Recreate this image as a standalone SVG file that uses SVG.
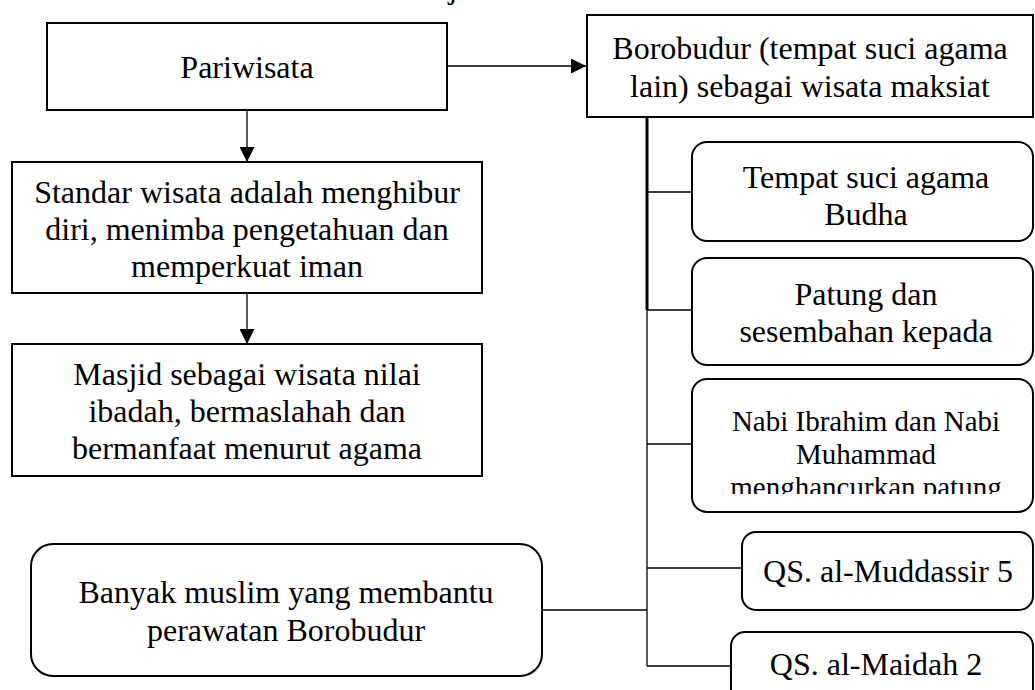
<svg xmlns="http://www.w3.org/2000/svg" width="1035" height="690" viewBox="0 0 1035 690">
<style>
.box{fill:#fff;stroke:#000;stroke-width:2}
.t{font-family:"Liberation Serif","Times New Roman",serif;font-size:32px;fill:#000;text-anchor:middle}
.s{font-size:29px}
.ln{stroke:#000;stroke-width:1.3;fill:none}
.thick{stroke:#000;stroke-width:3;fill:none}
</style>
<defs>
<marker id="ah" viewBox="0 0 10 10" refX="10" refY="5" markerWidth="15" markerHeight="15" markerUnits="userSpaceOnUse" orient="auto">
<path d="M0,0 L10,5 L0,10 Z" fill="#000"/>
</marker>
<clipPath id="nabiClip"><rect x="692" y="379" width="343" height="115"/></clipPath>
</defs>
<rect width="1035" height="690" fill="#fff"/>
<text class="t" x="453" y="-2">j</text>
<g id="connectors">
<line class="ln" x1="247" y1="110" x2="247" y2="162" marker-end="url(#ah)"/>
<line class="ln" x1="247" y1="293" x2="247" y2="344" marker-end="url(#ah)"/>
<line class="ln" x1="447" y1="66" x2="586" y2="66" marker-end="url(#ah)"/>
<line class="thick" x1="647" y1="118" x2="647" y2="310"/>
<line class="ln" x1="647" y1="118" x2="647" y2="666"/>
<line class="ln" x1="647" y1="192" x2="692" y2="192"/>
<line class="ln" x1="647" y1="310" x2="692" y2="310"/>
<line class="ln" x1="647" y1="444" x2="692" y2="444"/>
<line class="ln" x1="647" y1="568" x2="742" y2="568"/>
<line class="ln" x1="647" y1="666" x2="731" y2="666"/>
<line class="ln" x1="542" y1="610" x2="647" y2="610"/>
</g>
<g id="pariwisata">
<rect class="box" x="47" y="23" width="400" height="87"/>
<text class="t" x="247" y="78">Pariwisata</text>
</g>
<g id="standar">
<rect class="box" x="12" y="162" width="470" height="131"/>
<text class="t" x="247" y="203">Standar wisata adalah menghibur</text>
<text class="t" x="247" y="240">diri, menimba pengetahuan dan</text>
<text class="t" x="247" y="277">memperkuat iman</text>
</g>
<g id="masjid">
<rect class="box" x="12" y="344" width="470" height="132"/>
<text class="t" x="247" y="385">Masjid sebagai wisata nilai</text>
<text class="t" x="247" y="422">ibadah, bermaslahah dan</text>
<text class="t" x="247" y="459">bermanfaat menurut agama</text>
</g>
<g id="banyak">
<rect class="box" x="31" y="544" width="511" height="132" rx="22"/>
<text class="t" x="286" y="603">Banyak muslim yang membantu</text>
<text class="t" x="286" y="641">perawatan Borobudur</text>
</g>
<g id="borobudur">
<rect class="box" x="587" y="15" width="446" height="102"/>
<text class="t" x="810" y="59">Borobudur (tempat suci agama</text>
<text class="t" x="810" y="97">lain) sebagai wisata maksiat</text>
</g>
<g id="tempat">
<rect class="box" x="692" y="142" width="341" height="99" rx="15"/>
<text class="t" x="866" y="188">Tempat suci agama</text>
<text class="t" x="866" y="225">Budha</text>
</g>
<g id="patung">
<rect class="box" x="692" y="258" width="341" height="107" rx="15"/>
<text class="t" x="866" y="305">Patung dan</text>
<text class="t" x="866" y="342">sesembahan kepada</text>
</g>
<g id="nabi">
<rect class="box" x="692" y="379" width="341" height="133" rx="15"/>
<g clip-path="url(#nabiClip)">
<text class="t s" x="866" y="431">Nabi Ibrahim dan Nabi</text>
<text class="t s" x="866" y="464">Muhammad</text>
<text class="t s" x="866" y="497">menghancurkan patung</text>
</g>
</g>
<g id="muddassir">
<rect class="box" x="742" y="532" width="291" height="78" rx="14"/>
<text class="t" x="888" y="582">QS. al-Muddassir 5</text>
</g>
<g id="maidah">
<rect class="box" x="731" y="632" width="302" height="80" rx="14"/>
<text class="t" x="876" y="675">QS. al-Maidah 2</text>
</g>
</svg>
